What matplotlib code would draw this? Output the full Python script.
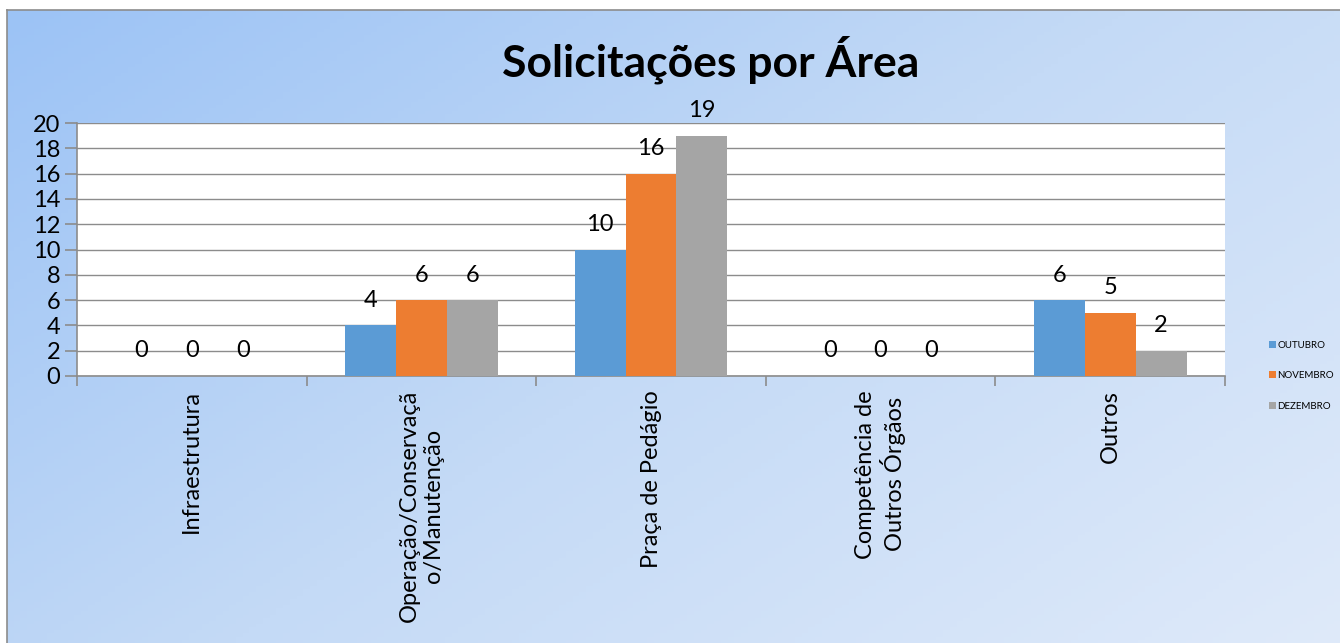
import numpy as np
import matplotlib
matplotlib.use("Agg")
import matplotlib.pyplot as plt
from matplotlib.colors import LinearSegmentedColormap

categories = ["Infraestrutura", "Operação/Conservaçã\no/Manutenção", "Praça de Pedágio",
              "Competência de\nOutros Órgãos", "Outros"]
series_names = ["OUTUBRO", "NOVEMBRO", "DEZEMBRO"]
outubro = [0, 4, 10, 0, 6]
novembro = [0, 6, 16, 0, 5]
dezembro = [0, 6, 19, 0, 2]
colors = ["#5b9bd5", "#ed7d31", "#a5a5a5"]
yticks = list(range(0, 21, 2))

plt.rcParams['font.family'] = ['Lato', 'DejaVu Sans']

W, H = 1340, 643
fig = plt.figure(figsize=(W / 100, H / 100), dpi=100)
fig.patch.set_facecolor("white")

# background gradient
bg = fig.add_axes([7 / W, 0, 1 - 7 / W + 0.01, 1 - 10 / H], zorder=0)
xx, yy = np.meshgrid(np.linspace(0, 1, 200), np.linspace(0, 1, 200))
grad = (xx * 0.6 + yy * 0.4)
cmap = LinearSegmentedColormap.from_list("bg", ["#9cc3f5", "#c4daf6", "#dfeafa"])
bg.imshow(grad, cmap=cmap, aspect="auto", extent=[0, 1, 0, 1], origin="upper")
bg.set_xlim(0, 1)
bg.set_ylim(0, 1)
bg.set_xticks([])
bg.set_yticks([])
for k, s in bg.spines.items():
    if k in ("left", "top"):
        s.set_color("#8c8c8c")
        s.set_linewidth(1.2)
    else:
        s.set_visible(False)

# main axes
left, right, top, bottom = 77, 1225, 123, 376
ax = fig.add_axes([left / W, 1 - bottom / H, (right - left) / W, (bottom - top) / H], zorder=1)
ax.set_facecolor("white")

x = np.arange(len(categories))
bw = 0.222
data = [outubro, novembro, dezembro]
for i, (vals, c, name) in enumerate(zip(data, colors, series_names)):
    pos = x + (i - 1) * bw
    ax.bar(pos, vals, width=bw, color=c, label=name, zorder=3)
    for p, v in zip(pos, vals):
        ax.text(p, v + 1.15, str(v), ha="center", va="bottom", fontsize=17, color="black",
                zorder=4, clip_on=False)

ax.set_xlim(-0.5, len(categories) - 0.5)
ax.set_ylim(0, 20)
ax.set_yticks(yticks)
ax.set_yticklabels([str(t) for t in yticks], fontsize=17)
ax.yaxis.grid(True, color="#8c8c8c", linewidth=1.0, zorder=0)
ax.set_axisbelow(True)

ax.set_xticks(np.arange(-0.5, len(categories), 1.0), minor=False)
ax.set_xticklabels([])
ax.tick_params(axis="x", direction="out", length=7, color="#8c8c8c", width=1.2)
ax.tick_params(axis="y", direction="out", length=9, color="#8c8c8c", width=1.2, pad=3)

for xi, lab in zip(x, categories):
    ax.text(xi, -1.1, lab, rotation=90, ha="center", va="top", fontsize=17,
            transform=ax.transData, multialignment="center", clip_on=False)

for sname in ["top", "right"]:
    ax.spines[sname].set_visible(False)
ax.spines["left"].set_color("#8c8c8c")
ax.spines["left"].set_linewidth(1.2)
ax.spines["bottom"].set_color("#8c8c8c")
ax.spines["bottom"].set_linewidth(1.2)

fig.text((503 + 918) / 2 / W, 1 - 60 / H, "Solicitações por Área", ha="center", va="center",
         fontsize=32, fontweight="bold", zorder=5)

leg = fig.legend(loc="upper left", bbox_to_anchor=(1260 / W, 1 - 332 / H), frameon=False,
                 fontsize=7, handlelength=0.7, handleheight=0.7, handletextpad=0.2,
                 labelspacing=2.2)

fig.savefig("out.png", dpi=100)
